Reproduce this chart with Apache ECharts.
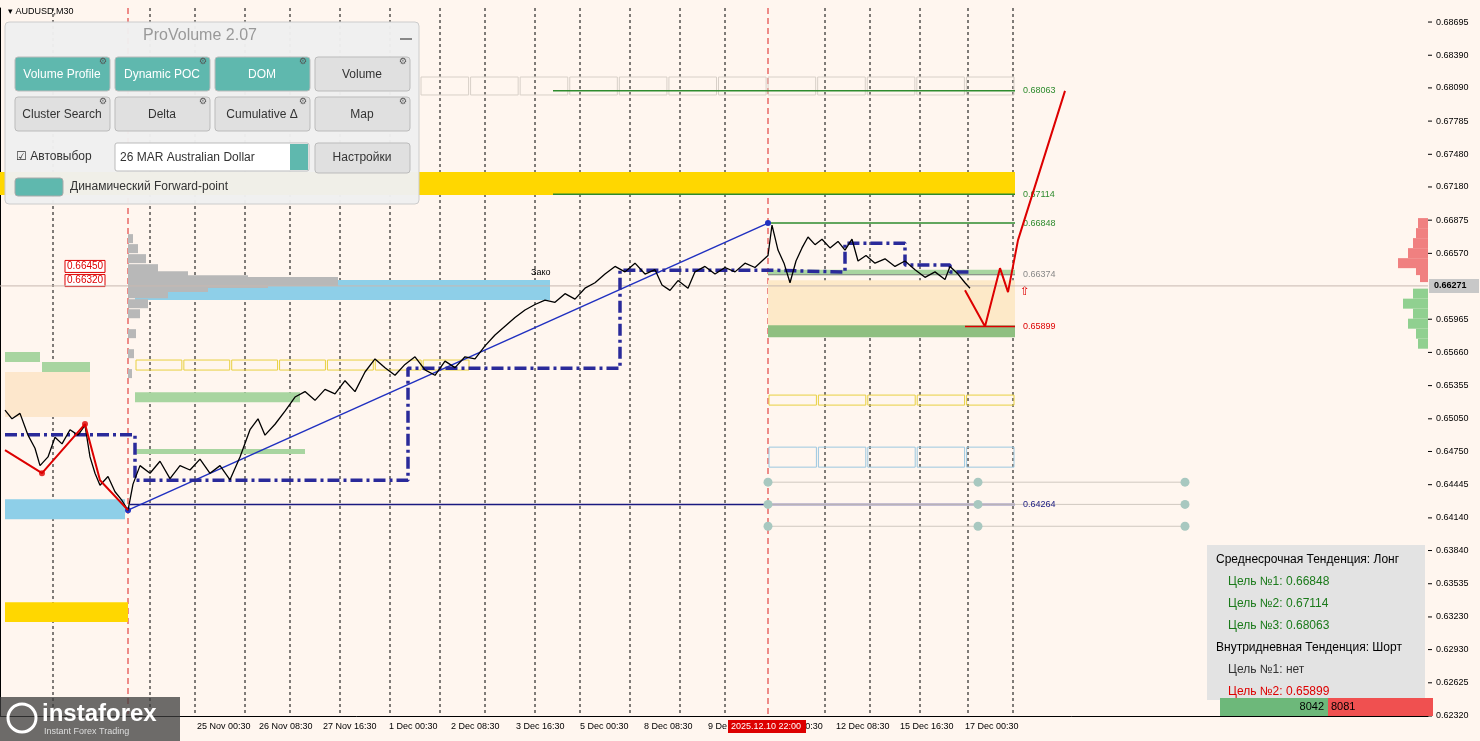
<!DOCTYPE html><html><head><meta charset="utf-8">
<script src="https://cdn.jsdelivr.net/npm/echarts@6/dist/echarts.min.js"></script>
<style>html,body{margin:0;background:#fff6ef}#c{width:1480px;height:741px}</style></head><body><div id="c"></div>
<script>
const price=[[5,.6513],[12,.6505],[20,.6510],[28,.6490],[35,.6478],[40,.6462],[48,.6470],[55,.6488],[62,.6482],[70,.6495],[78,.6490],[85,.6499],[90,.6470],[95,.6455],[100,.6444],[108,.6452],[115,.6438],[122,.6430],[128,.6421],[133,.6445],[140,.6462],[150,.6455],[160,.6466],[170,.6450],[180,.6462],[190,.6458],[200,.6468],[210,.6455],[220,.6462],[230,.6449],[240,.6470],[250,.6495],[258,.6505],[265,.6490],[275,.6500],[285,.6512],[295,.6525],[305,.6530],[315,.6522],[325,.6532],[335,.6528],[345,.6540],[355,.6530],[365,.6548],[375,.6560],[385,.6552],[395,.6545],[405,.6555],[415,.6562],[425,.6550],[435,.6545],[445,.6558],[455,.6552],[465,.6562],[475,.6560],[485,.6572],[495,.6582],[505,.6590],[515,.6598],[525,.6605],[535,.6610],[545,.6614],[555,.6612],[565,.6620],[575,.6615],[585,.6625],[595,.6630],[605,.6638],[615,.6645],[625,.6640],[635,.6648],[645,.6638],[655,.6642],[662,.6628],[670,.6623],[678,.6632],[688,.6625],[695,.6640],[705,.6645],[715,.6638],[725,.6644],[735,.6640],[745,.6648],[755,.6644],[762,.6650],[768,.6655],[772,.6683],[778,.6660],[784,.6648],[790,.6630],[796,.6650],[802,.6662],[808,.6672],[815,.6665],[822,.6670],[830,.6662],[838,.6668],[845,.6660],[852,.6670],[858,.6650],[866,.6655],[875,.6648],[885,.6652],[895,.6645],[905,.6650],[915,.6642],[925,.6635],[935,.6640],[945,.6633],[950,.6645],[958,.6638],[965,.6630],[970,.6625]];
const priceTicks=[0.68695,0.68390,0.68090,0.67785,0.67480,0.67180,0.66875,0.66570,0.65965,0.65660,0.65355,0.65050,0.64750,0.64445,0.64140,0.63840,0.63535,0.63230,0.62930,0.62625,0.62320];
const currentPrice=0.66271;
const timeLabels=[[197,'25 Nov 00:30'],[259,'26 Nov 08:30'],[323,'27 Nov 16:30'],[389,'1 Dec 00:30'],[451,'2 Dec 08:30'],[516,'3 Dec 16:30'],[580,'5 Dec 00:30'],[644,'8 Dec 08:30'],[708,'9 De'],[770,'11 Dec 00:30'],[836,'12 Dec 08:30'],[900,'15 Dec 16:30'],[965,'17 Dec 00:30']];
const markerLabel=[728,'2025.12.10 22:00'];
const vLines=[53,150,195,245,290,340,390,440,485,535,580,630,680,725,825,870,920,968,1013];
const redVLines=[128,768];
const filledZones=[[0,1015,0.67317,0.67106,'#ffd700'],[135,550,0.66325,0.66141,'#8ecfe8'],[5,125,0.64312,0.64128,'#8ecfe8'],[5,128,0.63366,0.63183,'#ffd700'],[5,40,0.65663,0.65571,'#a8d5a0'],[42,90,0.65571,0.65479,'#a8d5a0'],[5,90,0.65479,0.65066,'#fde7cc'],[135,300,0.65295,0.65203,'#a8d5a0'],[135,305,0.64772,0.64726,'#a8d5a0'],[768,1015,0.66324,0.65865,'#fde9c8'],[768,1015,0.65910,0.65800,'#8fbf80'],[768,1015,0.66420,0.66370,'#a8d5a0']];
const boxRows=[[135,470,0.65590,0.65498,'#e8d040'],[768,1015,0.65268,0.65176,'#e8d040'],[768,1015,0.64790,0.64606,'#9cc8e0'],[420,1015,0.68190,0.68025,'#d8d0c8']];
const levels=[[553,1015,0.68063,'#2e8b2e','0.68063'],[553,1015,0.67114,'#2e8b2e','0.67114'],[768,1015,0.66848,'#2e8b2e','0.66848'],[768,1015,0.66374,'#888','0.66374'],[965,1015,0.65899,'#dd0000','0.65899'],[130,1015,0.64264,'#1a1a80','0.64264']];
const dotRows=[0.64468,0.64264,0.64063];
const dotXs=[768,978,1185];
const trend=[[128,0.64211],[768,0.66848]];
const poc=[[5,.64904],[135,.64904],[135,.64486],[408,.64486],[408,.65515],[620,.65515],[620,.66416],[768,.66416],[768,.66398],[845,.66398],[845,.66664],[905,.66664],[905,.66462],[950,.66462],[950,.66398],[972,.66398]];
const forecast=[[965,.66232],[985,.65899],[1000,.66434],[1008,.66214],[1018,.66692],[1065,.68063]];
const leftZig=[[5,.64762],[42,.64551],[85,.65002],[100,.64486],[128,.64211]];
const leftProfile=[[0.66710,5],[0.66618,10],[0.66526,18],[0.66434,30],[0.66370,60],[0.66333,120],[0.66315,210],[0.66297,140],[0.66260,80],[0.66204,40],[0.66112,20],[0.66020,12],[0.65837,8],[0.65653,6],[0.65470,4]];
const rightProfile=[[0.66848,10,'#f08080'],[0.66756,12,'#f08080'],[0.66664,15,'#f08080'],[0.66572,20,'#f08080'],[0.66480,30,'#f08080'],[0.66416,12,'#f08080'],[0.66352,8,'#f08080'],[0.66200,15,'#90d090'],[0.66108,25,'#90d090'],[0.66016,15,'#90d090'],[0.65924,20,'#90d090'],[0.65832,12,'#90d090'],[0.65740,10,'#90d090']];

const chart=echarts.init(document.getElementById('c'));
const rectSeries=(data,fill)=>({type:'custom',silent:true,z:fill?1:2,data:data,renderItem:(p,api)=>{
 const a=api.coord([api.value(0),api.value(2)]),b=api.coord([api.value(1),api.value(3)]);
 return {type:'rect',shape:{x:a[0],y:a[1],width:b[0]-a[0],height:b[1]-a[1]},style:fill?{fill:data[p.dataIndex][4]}:{fill:'none',stroke:data[p.dataIndex][4],lineWidth:1}};}});
const boxSeries={type:'custom',silent:true,z:2,data:boxRows,renderItem:(p,api)=>{
 const x1=api.value(0),x2=api.value(1),n=Math.round((x2-x1)/48),ch=[];
 for(let i=0;i<n;i++){const a=api.coord([x1+(x2-x1)*i/n+1,api.value(2)]),b=api.coord([x1+(x2-x1)*(i+1)/n-1,api.value(3)]);
 ch.push({type:'rect',shape:{x:a[0],y:a[1],width:b[0]-a[0],height:b[1]-a[1]},style:{fill:'none',stroke:boxRows[p.dataIndex][4],lineWidth:1}});}
 return {type:'group',children:ch};}};
const lineS=(d,c,w,t,z)=>({type:'line',data:d,symbol:'none',silent:true,z:z||3,lineStyle:{color:c,width:w,type:t||'solid'}});
const series=[
 rectSeries(filledZones,true),boxSeries,
 {type:'custom',silent:true,z:1,data:leftProfile,renderItem:(p,api)=>{const a=api.coord([128,api.value(0)]),b=api.coord([128+api.value(1),api.value(0)]);return {type:'rect',shape:{x:a[0],y:a[1]-4,width:b[0]-a[0],height:9},style:{fill:'#b8b8b8'}};}},
 {type:'custom',silent:true,z:1,data:rightProfile,renderItem:(p,api)=>{const a=api.coord([1428-api.value(1),api.value(0)]),b=api.coord([1428,api.value(0)]);return {type:'rect',shape:{x:a[0],y:a[1]-5,width:b[0]-a[0],height:10},style:{fill:rightProfile[p.dataIndex][2]}};}},
 lineS([[0,currentPrice],[1428,currentPrice]],'#c8b8b0',1),
 ...levels.map(l=>({type:'line',data:[[l[0],l[2]],[l[1],l[2]]],symbol:'none',silent:true,z:3,lineStyle:{color:l[3],width:l[3]=='#888'?1:1.5},endLabel:{show:true,formatter:l[4],color:l[3],fontSize:9,fontFamily:'Liberation Sans'}})),
 ...dotRows.map(v=>({type:'line',data:dotXs.map(x=>[x,v]),symbol:'circle',symbolSize:9,silent:true,z:3,itemStyle:{color:'#a8c8c0'},lineStyle:{color:'#d0c8c0',width:1}})),
 lineS(trend,'#2030c0',1.5),
 {type:'line',data:trend,symbol:'circle',symbolSize:6,itemStyle:{color:'#2030c0'},lineStyle:{width:0},silent:true,z:4},
 lineS(poc,'#2a2a9a',3.5,[12,4,3,4]),
 lineS(price,'#000',1.3,'solid',5),
 lineS(forecast,'#dd0000',2,'solid',6),
 lineS(leftZig,'#dd0000',2,'solid',6),
 {type:'scatter',data:[leftZig[1],leftZig[2]],symbolSize:6,itemStyle:{color:'#dd0000'},z:6,silent:true},
];
chart.setOption({animation:false,backgroundColor:'#fff6ef',
 grid:{left:0,right:52,top:8,bottom:25},
 xAxis:{type:'value',min:0,max:1428,axisLabel:{show:false},axisTick:{show:false},splitLine:{show:false},axisLine:{lineStyle:{color:'#000'}}},
 yAxis:{type:'value',position:'right',min:0.62320,max:0.68824,axisLabel:{show:false},axisTick:{show:false},splitLine:{show:false},axisLine:{show:true,lineStyle:{color:'#000'}}},
 series:series});
const cp=(x,y)=>chart.convertToPixel({xAxisIndex:0,yAxisIndex:0},[x,y]);
const g=[];
const Z=100;
const yTop=cp(0,0.68824)[1],yBot=cp(0,0.62320)[1];
vLines.forEach(x=>{const X=cp(x,0.65)[0];g.push({type:'line',z:-1,shape:{x1:X,y1:yTop,x2:X,y2:yBot},style:{stroke:'#000',lineDash:[3,3],lineWidth:1}});});
redVLines.forEach(x=>{const X=cp(x,0.65)[0];g.push({type:'line',z:-1,shape:{x1:X,y1:yTop,x2:X,y2:yBot},style:{stroke:'#dd2020',lineDash:[6,4],lineWidth:1}});});
const axX=cp(1428,0.65)[0];
priceTicks.forEach(v=>{const Y=cp(0,v)[1];g.push({type:'line',shape:{x1:axX,y1:Y,x2:axX+4,y2:Y},style:{stroke:'#000'}});g.push({type:'text',x:axX+8,y:Y,style:{text:v.toFixed(5),fill:'#000',font:'9px Liberation Sans',verticalAlign:'middle'}});});
const cy=cp(0,currentPrice)[1];
g.push({type:'rect',shape:{x:axX+1,y:cy-7,width:50,height:14},style:{fill:'#c8c8c8'}});
g.push({type:'text',x:axX+6,y:cy,style:{text:currentPrice.toFixed(5),fill:'#000',font:'bold 9px Liberation Sans',verticalAlign:'middle'}});
timeLabels.forEach(t=>{const X=cp(t[0],0.65)[0];
 g.push({type:'text',x:X,y:yBot+11,style:{text:t[1],fill:'#000',font:'9px Liberation Sans',align:'left',verticalAlign:'middle'}});});
{const X=cp(markerLabel[0],0.65)[0];g.push({type:'rect',shape:{x:X,y:yBot+4,width:78,height:13},style:{fill:'#dd0000'}});
 g.push({type:'text',x:X+3,y:yBot+11,style:{text:markerLabel[1],fill:'#fff',font:'9px Liberation Sans',verticalAlign:'middle'}});}
g.push({type:'text',x:1020,y:292,style:{text:'⇧',fill:'#dd0000',font:'12px DejaVu Sans',verticalAlign:'middle'}});
[[0.66450,'0.66450'],[0.66320,'0.66320']].forEach(m=>{const Y=cp(0,m[0])[1];g.push({type:'rect',shape:{x:65,y:Y-6,width:40,height:12},style:{fill:'#fff',stroke:'#dd0000'}});g.push({type:'text',x:67,y:Y,style:{text:m[1],fill:'#dd0000',font:'10px Liberation Sans',verticalAlign:'middle'}});});
g.push({type:'text',x:8,y:12,style:{text:'▾ AUDUSD,M30',fill:'#000',font:'9px Liberation Sans',verticalAlign:'middle'}});
g.push({type:'text',x:531,y:268,style:{text:'Зако',fill:'#000',font:'9px Liberation Sans'}});
g.push({type:'rect',z:Z,shape:{x:5,y:22,width:414,height:182,r:4},style:{fill:'rgba(240,240,240,0.97)',stroke:'#ccc'}});
g.push({type:'text',z:Z,x:200,y:36,style:{text:'ProVolume 2.07',fill:'#999',font:'16px Liberation Sans',align:'center',verticalAlign:'middle'}});
g.push({type:'rect',z:Z,shape:{x:400,y:38,width:12,height:2},style:{fill:'#888'}});
const btns=[['Volume Profile',1],['Dynamic POC',1],['DOM',1],['Volume',0],['Cluster Search',0],['Delta',0],['Cumulative Δ',0],['Map',0]];
btns.forEach((b,i)=>{const x=15+(i%4)*100,y=57+Math.floor(i/4)*40;
 g.push({type:'rect',z:Z,shape:{x:x,y:y,width:95,height:34,r:3},style:{fill:b[1]?'#5fb8ae':'#e0e0e0',stroke:'#bbb'}});
 g.push({type:'text',z:Z,x:x+47,y:y+18,style:{text:b[0],fill:b[1]?'#fff':'#333',font:'12px Liberation Sans',align:'center',verticalAlign:'middle'}});
 g.push({type:'text',z:Z,x:x+88,y:y+5,style:{text:'⚙',fill:'#555',font:'9px DejaVu Sans',align:'center',verticalAlign:'middle'}});});
g.push({type:'text',z:Z,x:16,y:157,style:{text:'☑ Автовыбор',fill:'#333',font:'12px Liberation Sans',verticalAlign:'middle'}});
g.push({type:'rect',z:Z,shape:{x:115,y:143,width:194,height:28,r:2},style:{fill:'#fff',stroke:'#bbb'}});
g.push({type:'text',z:Z,x:120,y:158,style:{text:'26 MAR Australian Dollar',fill:'#333',font:'12px Liberation Sans',verticalAlign:'middle'}});
g.push({type:'rect',z:Z,shape:{x:290,y:144,width:18,height:26},style:{fill:'#5fb8ae'}});
g.push({type:'rect',z:Z,shape:{x:315,y:143,width:95,height:30,r:3},style:{fill:'#e0e0e0',stroke:'#bbb'}});
g.push({type:'text',z:Z,x:362,y:158,style:{text:'Настройки',fill:'#333',font:'12px Liberation Sans',align:'center',verticalAlign:'middle'}});
g.push({type:'rect',z:Z,shape:{x:15,y:178,width:48,height:18,r:3},style:{fill:'#5fb8ae',stroke:'#aaa'}});
g.push({type:'text',z:Z,x:70,y:187,style:{text:'Динамический Forward-point',fill:'#333',font:'12px Liberation Sans',verticalAlign:'middle'}});
g.push({type:'rect',z:Z,shape:{x:1207,y:545,width:218,height:155},style:{fill:'rgba(225,225,225,0.95)'}});
const info=[['Среднесрочная Тенденция: Лонг','#000',1216],['Цель №1: 0.66848','#1a7a1a',1228],['Цель №2: 0.67114','#1a7a1a',1228],['Цель №3: 0.68063','#1a7a1a',1228],['Внутридневная Тенденция: Шорт','#000',1216],['Цель №1: нет','#333',1228],['Цель №2: 0.65899','#dd0000',1228]];
info.forEach((t,i)=>g.push({type:'text',z:Z,x:t[2],y:560+i*22,style:{text:t[0],fill:t[1],font:'12px Liberation Sans',verticalAlign:'middle'}}));
g.push({type:'rect',z:Z,shape:{x:1220,y:698,width:108,height:18},style:{fill:'#6db87a'}});
g.push({type:'rect',z:Z,shape:{x:1328,y:698,width:105,height:18},style:{fill:'#f05050'}});
g.push({type:'text',z:Z,x:1324,y:707,style:{text:'8042',fill:'#000',font:'11px Liberation Sans',align:'right',verticalAlign:'middle'}});
g.push({type:'text',z:Z,x:1331,y:707,style:{text:'8081',fill:'#000',font:'11px Liberation Sans',verticalAlign:'middle'}});
g.push({type:'rect',z:Z,shape:{x:0,y:697,width:180,height:44},style:{fill:'rgba(60,60,60,0.75)'}});
g.push({type:'text',z:Z,x:42,y:714,style:{text:'instaforex',fill:'#fff',font:'bold 24px Liberation Sans',verticalAlign:'middle'}});
g.push({type:'text',z:Z,x:44,y:732,style:{text:'Instant Forex Trading',fill:'#ddd',font:'9px Liberation Sans',verticalAlign:'middle'}});
g.push({type:'circle',z:Z,shape:{cx:22,cy:718,r:14},style:{fill:'none',stroke:'#fff',lineWidth:3}});
chart.setOption({graphic:g});
</script></body></html>
